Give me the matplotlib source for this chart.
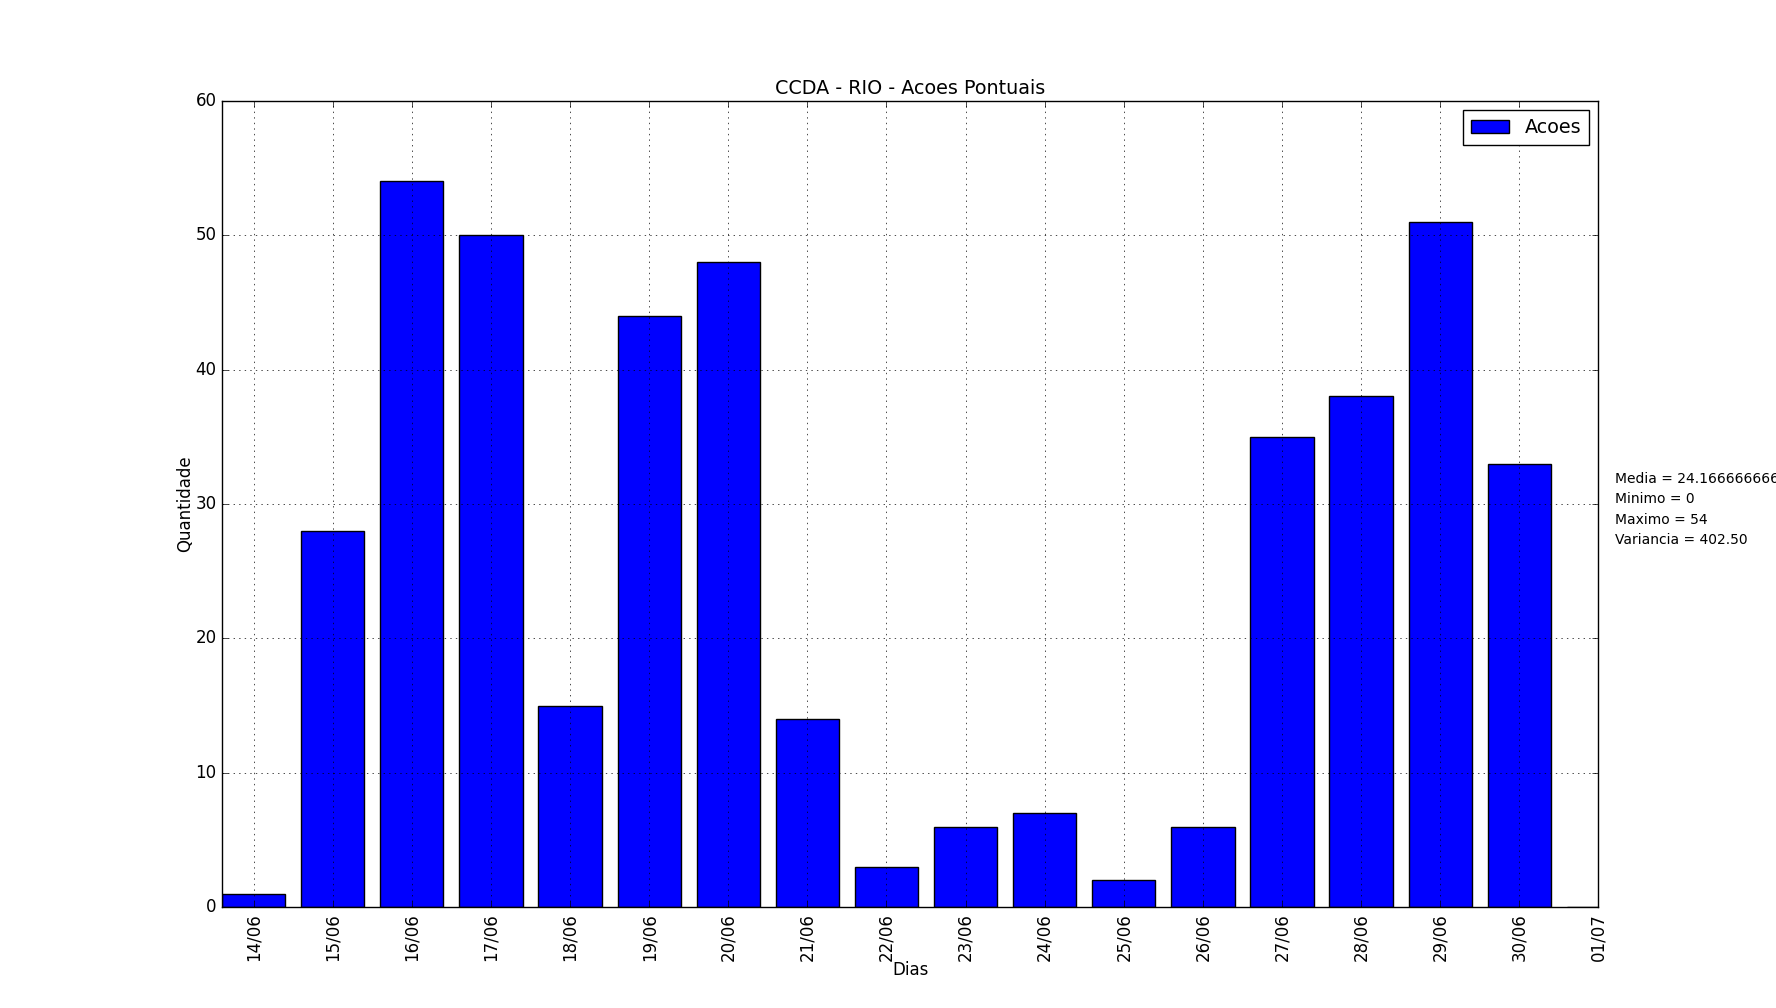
import numpy as np
import matplotlib
matplotlib.use('Agg')
import matplotlib.pyplot as plt

dias = ['14/06', '15/06', '16/06', '17/06', '18/06', '19/06', '20/06', '21/06', '22/06',
        '23/06', '24/06', '25/06', '26/06', '27/06', '28/06', '29/06', '30/06', '01/07']
acoes = [1, 28, 54, 50, 15, 44, 48, 14, 3, 6, 7, 2, 6, 35, 38, 51, 33, 0]

plt.style.use('classic')
fig = plt.figure(figsize=(17.76, 10.08), dpi=100, facecolor='white')
ax = fig.add_subplot(111)

x = np.arange(len(acoes))
ax.bar(x, acoes, width=0.8, align='edge', color='blue', edgecolor='black', label='Acoes')

ax.set_xticks(x + 0.4)
ax.set_xticklabels(dias, rotation=90)
ax.set_xlim(0, 17.4)
ax.set_ylim(0, 60)
ax.grid(True)

ax.set_title('CCDA - RIO - Acoes Pontuais', fontsize=13.8)
ax.set_xlabel('Dias', labelpad=0)
ax.set_ylabel('Quantidade', labelpad=1)
ax.legend(loc='upper right', fontsize=13.8)

# estatisticas ao lado do grafico
media = np.mean(acoes)
stats = 'Media = %.12g\nMinimo = %d\nMaximo = %d\nVariancia = %.2f' % (
    media, min(acoes), max(acoes), np.var(acoes, ddof=1))
ax.text(1.012, 0.493, stats, transform=ax.transAxes, fontsize=10,
        va='center', ha='left', linespacing=1.58)

fig.savefig('out.png', dpi=100, facecolor='white')
